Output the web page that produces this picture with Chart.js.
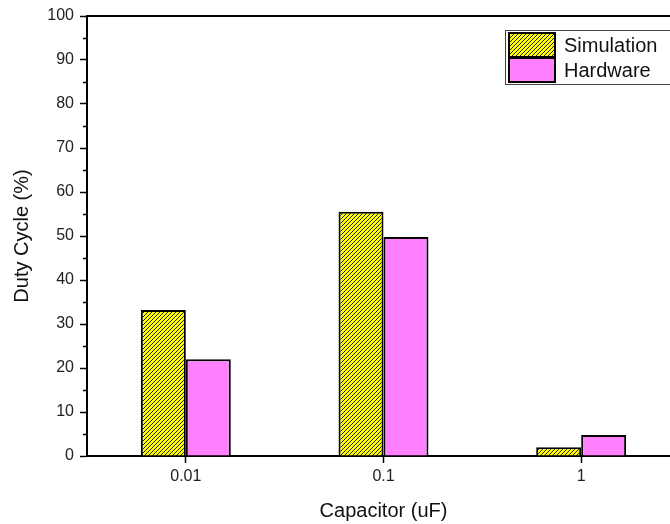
<!DOCTYPE html>
<html>
<head>
<meta charset="utf-8">
<script src="https://cdn.jsdelivr.net/npm/chart.js@4"></script>
<style>
  html, body { margin: 0; padding: 0; background: #fff; overflow: hidden; }
  #wrap { width: 690px; height: 524px; }
</style>
</head>
<body>
<div id="wrap"><canvas id="duty-chart" width="690" height="524"></canvas></div>
<script>
var categories = ["0.01", "0.1", "1"];
var simulation = [33.2, 55.5, 2.0];
var hardware = [22.0, 49.8, 4.8];
var seriesNames = ["Simulation", "Hardware"];
var yMax = 100;
var yStep = 10;
var yMinorStep = 5;

var fontFam = "'Liberation Sans', Arial, sans-serif";

function make_hatch() {
  var c = document.createElement("canvas");
  c.width = 4;
  c.height = 4;
  var g = c.getContext("2d");
  g.fillStyle = "#ffff00";
  g.fillRect(0, 0, 4, 4);
  g.strokeStyle = "#222";
  g.lineWidth = 1;
  g.beginPath();
  g.moveTo(0, 4); g.lineTo(4, 0);
  g.moveTo(-1, 1); g.lineTo(1, -1);
  g.moveTo(3, 5); g.lineTo(5, 3);
  g.stroke();
  return g.createPattern(c, "repeat");
}

var hatch = make_hatch();
var pink = "#ff80ff";

// minor ticks, top frame line, boxed legend
var extras = {
  id: "extras",
  afterDraw: function (chart) {
    var ctx = chart.ctx;
    var area = chart.chartArea;
    var y = chart.scales.y;
    ctx.save();
    ctx.strokeStyle = "#000";
    ctx.lineWidth = 2;
    ctx.beginPath();
    ctx.moveTo(area.left - 1, area.top);
    ctx.lineTo(area.right, area.top);
    ctx.stroke();
    ctx.lineWidth = 1.5;
    for (var v = yMinorStep; v < yMax; v += yStep) {
      var py = Math.round(y.getPixelForValue(v)) + 0.5;
      ctx.beginPath();
      ctx.moveTo(area.left, py);
      ctx.lineTo(area.left - 4, py);
      ctx.stroke();
    }

    // legend
    var bx = 505, by = 30, bw = 180, bh = 54;
    ctx.lineWidth = 1;
    ctx.strokeStyle = "#444";
    ctx.fillStyle = "#fff";
    ctx.fillRect(bx, by, bw, bh);
    ctx.strokeRect(bx + 0.5, by + 0.5, bw, bh);
    ctx.font = "20px " + fontFam;
    ctx.textBaseline = "middle";
    chart.data.datasets.forEach(function (ds, i) {
      var sy = by + 3 + i * 25;
      ctx.fillStyle = ds.backgroundColor;
      ctx.fillRect(bx + 4, sy, 46, 24);
      ctx.lineWidth = 2;
      ctx.strokeStyle = "#000";
      ctx.strokeRect(bx + 4, sy, 46, 24);
      ctx.fillStyle = "#111";
      ctx.fillText(ds.label, bx + 59, sy + 13);
    });
    ctx.restore();
  }
};

var config = {
  type: "bar",
  data: {
    labels: categories,
    datasets: [
      {
        label: seriesNames[0],
        data: simulation,
        backgroundColor: hatch,
        borderColor: "#000",
        borderWidth: 2
      },
      {
        label: seriesNames[1],
        data: hardware,
        backgroundColor: pink,
        borderColor: "#000",
        borderWidth: 2
      }
    ]
  },
  options: {
    responsive: false,
    animation: false,
    layout: { padding: { top: 16, right: 10, left: 0, bottom: 0 } },
    datasets: { bar: { categoryPercentage: 0.455, barPercentage: 1.0 } },
    plugins: { legend: { display: false }, tooltip: { enabled: false } },
    scales: {
      x: {
        grid: { offset: false, drawOnChartArea: false, tickLength: 7, tickWidth: 1.5, tickColor: "#000" },
        border: { color: "#000", width: 2 },
        ticks: { color: "#222", padding: 4, font: { size: 16, family: fontFam } },
        title: {
          display: true,
          text: "Capacitor (uF)",
          color: "#111",
          padding: 1,
          font: { size: 20, family: fontFam }
        },
        afterFit: function (s) { s.height = 68; }
      },
      y: {
        min: 0,
        max: yMax,
        grid: { drawOnChartArea: false, tickLength: 7, tickWidth: 1.5, tickColor: "#000" },
        border: { color: "#000", width: 2 },
        ticks: { stepSize: yStep, color: "#222", padding: 6, font: { size: 16, family: fontFam } },
        title: {
          display: true,
          text: "Duty Cycle (%)",
          color: "#111",
          padding: 10,
          font: { size: 20, family: fontFam }
        },
        afterFit: function (s) { s.width = 87; }
      }
    }
  },
  plugins: [extras]
};

var ctx = document.getElementById("duty-chart").getContext("2d");
new Chart(ctx, config);
</script>
</body>
</html>
